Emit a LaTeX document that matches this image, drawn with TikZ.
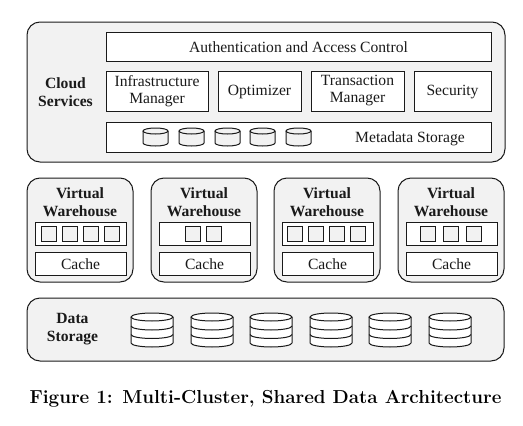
\documentclass[tikz,border=0pt]{standalone}
\usepackage{fontspec}
\newfontfamily\tmf{Liberation Serif}
\newfontfamily\lmf{Latin Modern Roman}
\newcommand{\bx}[7]{%
 \pgfmathsetmacro{\wid}{(#4)-(#2)}\pgfmathsetmacro{\hei}{(#5)-(#3)}%
 \pgfmathsetmacro{\cx}{((#2)+(#4))/2}\pgfmathsetmacro{\cy}{((#3)+(#5))/2}%
 \node[#6,minimum width=\wid pt,minimum height=\hei pt] (#1) at (\cx,\cy) {#7};}
\newcommand{\smallcyl}[2]{%
 \draw[cyl,fill=panel] (#1,#2+3) -- (#1,#2+15) arc[start angle=180,end angle=0,x radius=12.5,y radius=3] -- (#1+25,#2+3);
 \draw[cyl,fill=panel] (#1+12.5,#2+3) ellipse[x radius=12.5,y radius=3];}
\newcommand{\bigcyl}[2]{%
 \draw[cyl,fill=white] (#1,#2+4) -- (#1,#2+30) arc[start angle=180,end angle=0,x radius=21,y radius=4] -- (#1+42,#2+4);
 \draw[cyl] (#1,#2+13) arc[start angle=180,end angle=0,x radius=21,y radius=4];
 \draw[cyl] (#1,#2+21.5) arc[start angle=180,end angle=0,x radius=21,y radius=4];
 \draw[cyl,fill=white] (#1+21,#2+4) ellipse[x radius=21,y radius=4];}
\definecolor{panel}{HTML}{F2F2F2}
\definecolor{ink}{HTML}{1A1A1A}
\tikzset{
 x=1pt,y=-1pt,
 every node/.style={outer sep=0pt,inner sep=0pt,text=ink,align=center},
 outerbox/.style={draw=ink,fill=panel,line width=1pt,rounded corners=13pt},
 whitebox/.style={draw=ink,fill=white,line width=1pt,font=\tmf\fontsize{15.6}{17}\selectfont,execute at begin node=\rule{0pt}{12.6pt}},
 slot/.style={draw=ink,fill=panel,line width=1pt},
 cyl/.style={draw=ink,line width=1pt},
 title/.style={font=\tmf\bfseries\fontsize{15.6}{18}\selectfont},
}
\begin{document}
\begin{tikzpicture}
\useasboundingbox[fill=white] (0,0) rectangle (523,426);
\bx{cloud}{27}{22}{505}{162}{outerbox}{}
\node[title] (cloudlabel) at (65.5,92.5) {Cloud\\Services};
\bx{auth}{106}{32}{491}{61}{whitebox}{Authentication and Access Control}
\bx{infra}{106}{71}{208}{111}{whitebox}{Infrastructure\\Manager}
\bx{opt}{218}{71}{301}{111}{whitebox}{Optimizer}
\bx{trans}{311}{71}{404}{111}{whitebox}{Transaction\\Manager}
\bx{sec}{414}{71}{491}{111}{whitebox}{Security}
\bx{meta}{106}{122}{491}{152}{whitebox}{}
\node[font=\tmf\fontsize{15.6}{17}\selectfont] (metalabel) at (410,138.5) {Metadata Storage};
\foreach \x in {143,179,215,250,286} {\smallcyl{\x}{128}}
% Virtual warehouses
\foreach \n/\x in {a/27,b/151,c/274,d/398} {
 \bx{vw\n}{\x}{178}{\x+106}{282}{outerbox}{}
 \node[title] (vwl\n) at (\x+53,202) {Virtual\\Warehouse};
 \bx{slots\n}{\x+8}{222}{\x+99}{245}{whitebox}{}
 \bx{cache\n}{\x+8}{252}{\x+99}{275}{whitebox}{Cache}
}
\foreach \x in {41,62,83,104,185,206,287,308,329,350,420,443,466} {
 \draw[slot] (\x,226) rectangle (\x+15,241);
}
% Data storage
\bx{data}{27}{298}{504}{361}{outerbox}{}
\node[title] (datalabel) at (72.5,329.5) {Data\\Storage};
\foreach \x in {131,191,250,310,369,429} {\bigcyl{\x}{313}}
\node[font=\lmf\bfseries\fontsize{18.8}{20}\selectfont,text=black] (caption) at (265.5,398.5) {Figure 1: Multi-Cluster, Shared Data Architecture};
\end{tikzpicture}
\end{document}
